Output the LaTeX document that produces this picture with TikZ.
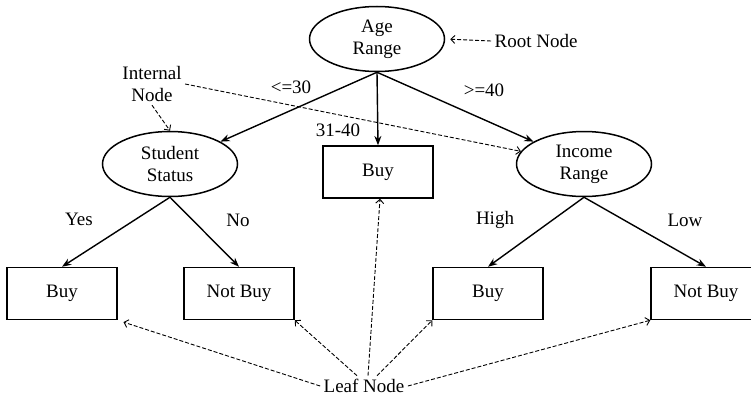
\documentclass[tikz,border=0pt]{standalone}
\usepackage{fontspec}
\setmainfont{Liberation Serif}
\usetikzlibrary{arrows.meta,shapes.geometric}

\begin{document}
\begin{tikzpicture}[x=1pt, y=-1pt, >=Stealth,
    every node/.style={font=\fontsize{19}{22}\selectfont},
    decision/.style={ellipse, draw, line width=1.5pt, align=center,
        minimum width=135pt, minimum height=65pt, inner sep=0pt},
    leaf/.style={rectangle, draw, line width=1.5pt,
        minimum width=110pt, minimum height=52pt},
    branch/.style={->, line width=1.4pt},
    pointer/.style={-{Straight Barb[length=4pt]}, line width=0.9pt,
        dash pattern=on 4pt off 2pt}]

\useasboundingbox (0,0) rectangle (751,396);
\clip (0,0) rectangle (751,396);

% Knoten

\node[decision] (age) at (377,39) {Age\\Range};

\node[decision] (student) at (170,164) {Student\\Status};

\node[decision] (income) at (584,164) {Income\\Range};

\node[leaf] (buymid) at (378,172) {Buy};

\node[leaf] (buyleft) at (62,293.5) {Buy};

\node[leaf] (notbuyleft) at (239,293.5) {Not Buy};

\node[leaf] (buyright) at (488,293.5) {Buy};

\node[leaf] (notbuyright) at (706,293.5) {Not Buy};

% Kanten

\draw[branch] (age.south) -- (student);

\draw[branch] (age.south) -- (buymid.north);

\draw[branch] (age.south) -- (income);

\draw[branch] (student.south) -- (buyleft.north);

\draw[branch] (student.south) -- (notbuyleft.north);

\draw[branch] (income.south) -- (buyright.north);

\draw[branch] (income.south) -- (notbuyright.north);

% Beschriftungen

\node (le30) at (291,87) {<=30};

\node (ge40) at (484,90) {>=40};

\node (mid) at (338,130) {31-40};

\node (yes) at (79,219) {Yes};

\node (no) at (238,220) {No};

\node (high) at (495,220) {High};

\node (low) at (685,220) {Low};

% Hinweise

\node (rootlbl) at (536,41) {Root Node};

\node[align=center] (internal) at (152,84) {Internal\\Node};

\node (leafnode) at (364,386) {Leaf Node};

\draw[pointer, shorten >=5pt] (rootlbl.west) -- (age.east);

\draw[pointer] (internal.south) -- (student.north);

\draw[pointer] (internal.east) -- (income);

\draw[pointer, shorten >=6pt] (leafnode.west) -- (buyleft.south east);

\draw[pointer] ([xshift=-7pt]leafnode.north) -- (notbuyleft.south east);

\draw[pointer] ([xshift=4pt]leafnode.north) -- ([xshift=2pt]buymid.south);

\draw[pointer] ([xshift=13pt]leafnode.north) -- (buyright.south west);

\draw[pointer] (leafnode.east) -- (notbuyright.south west);

\end{tikzpicture}
\end{document}
